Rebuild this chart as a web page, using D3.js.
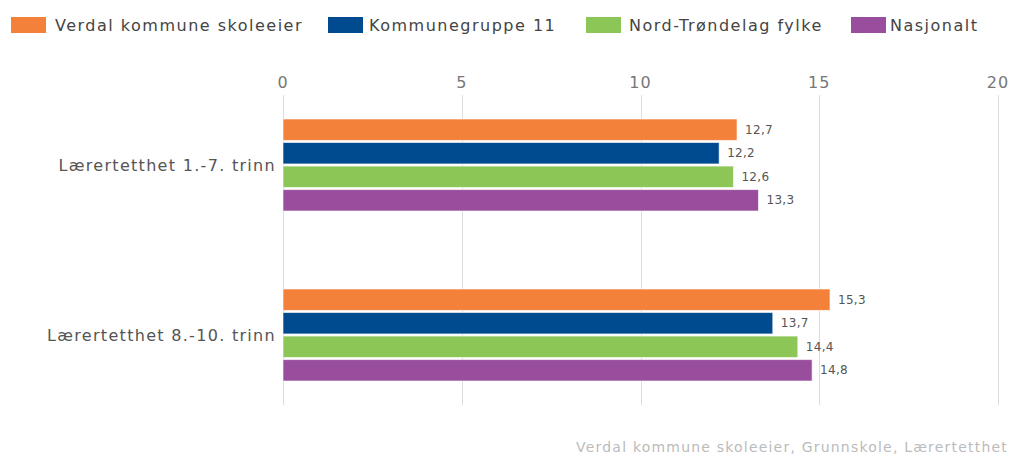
<!DOCTYPE html>
<html lang="en">
	<head>
		<meta charset="utf-8">
		<title>Lærertetthet</title>
		<script type="text/javascript" src="https://cdn.jsdelivr.net/npm/d3@7"></script>
		<style>
			body { margin: 0; background: #fff; }
			text { font-family: "DejaVu Sans", Verdana, sans-serif; }
		</style>
	</head>
	<body>
		<script type="text/javascript">
			// data
			var categories = ["Lærertetthet 1.-7. trinn", "Lærertetthet 8.-10. trinn"];
			var seriesNames = ["Verdal kommune skoleeier", "Kommunegruppe 11", "Nord-Trøndelag fylke", "Nasjonalt"];
			var seriesColors = ["#f4813a", "#004a8f", "#8cc657", "#984e9c"];
			var verdal = [12.7, 15.3];
			var kommunegruppe = [12.2, 13.7];
			var fylke = [12.6, 14.4];
			var nasjonalt = [13.3, 14.8];
			var xTicks = [0, 5, 10, 15, 20];
			var footer = "Verdal kommune skoleeier, Grunnskole, Lærertetthet";

			var series = [verdal, kommunegruppe, fylke, nasjonalt];

			var width = 1013, height = 457;
			var svg = d3.select("body").append("svg")
				.attr("width", width)
				.attr("height", height);

			var x = d3.scaleLinear().domain([0, 20]).range([283, 998]);
			var y = d3.scaleBand().domain(categories).range([80, 420]);
			var yInner = d3.scaleBand().domain(d3.range(series.length))
				.range([y.bandwidth() / 2 - 46, y.bandwidth() / 2 + 46]).paddingInner(0.09);

			// gridlines
			svg.append("g").selectAll("line")
				.data(xTicks)
				.enter().append("line")
				.attr("x1", function(d) { return Math.round(x(d)) + 0.5; })
				.attr("x2", function(d) { return Math.round(x(d)) + 0.5; })
				.attr("y1", 95)
				.attr("y2", 405)
				.attr("stroke", "#dcdcdc")
				.attr("stroke-width", 1);

			// top axis labels
			svg.append("g").selectAll("text")
				.data(xTicks)
				.enter().append("text")
				.attr("x", function(d) { return x(d); })
				.attr("y", 88)
				.attr("text-anchor", "middle")
				.attr("fill", "#777")
				.style("font-size", "16px")
				.style("letter-spacing", "1px")
				.text(function(d) { return d; });

			// category labels
			svg.append("g").selectAll("text")
				.data(categories)
				.enter().append("text")
				.attr("x", 276)
				.attr("y", function(d) { return y(d) + y.bandwidth() / 2; })
				.attr("dy", "0.35em")
				.attr("text-anchor", "end")
				.attr("fill", "#555")
				.style("font-size", "16px")
				.style("letter-spacing", "1.3px")
				.text(function(d) { return d; });

			// bars
			var groups = svg.append("g").selectAll("g")
				.data(series)
				.enter().append("g");

			groups.each(function(vals, si) {
				var g = d3.select(this);
				g.selectAll("rect")
					.data(vals)
					.enter().append("rect")
					.attr("x", x(0))
					.attr("y", function(d, i) { return y(categories[i]) + yInner(si); })
					.attr("width", function(d) { return x(d) - x(0); })
					.attr("height", yInner.bandwidth())
					.attr("fill", seriesColors[si])
					.attr("stroke", "#fff")
					.attr("stroke-opacity", 0.6)
					.attr("stroke-width", 1);
				g.selectAll("text")
					.data(vals)
					.enter().append("text")
					.attr("x", function(d) { return x(d) + 8; })
					.attr("y", function(d, i) { return y(categories[i]) + yInner(si) + yInner.bandwidth() / 2; })
					.attr("dy", "0.35em")
					.attr("fill", "#555")
					.style("font-size", "12px")
					.style("letter-spacing", "0.3px")
					.text(function(d) { return d.toFixed(1).replace(".", ","); });
			});

			// legend
			var legendX = [11, 328, 586, 851];
			var legendTextX = [55, 369, 629, 890];
			var legend = svg.append("g").selectAll("g")
				.data(seriesNames)
				.enter().append("g");
			legend.append("rect")
				.attr("x", function(d, i) { return legendX[i]; })
				.attr("y", 17)
				.attr("width", 35)
				.attr("height", 16)
				.attr("fill", function(d, i) { return seriesColors[i]; });
			legend.append("text")
				.attr("x", function(d, i) { return legendTextX[i]; })
				.attr("y", 25)
				.attr("dy", "0.35em")
				.attr("fill", "#444")
				.style("font-size", "16px")
				.style("letter-spacing", "1.5px")
				.text(function(d) { return d; });

			// source text
			svg.append("text")
				.attr("x", 1008)
				.attr("y", 452)
				.attr("text-anchor", "end")
				.attr("fill", "#bbb")
				.style("font-size", "14px")
				.style("letter-spacing", "1.2px")
				.text(footer);
		</script>
	</body>
</html>
